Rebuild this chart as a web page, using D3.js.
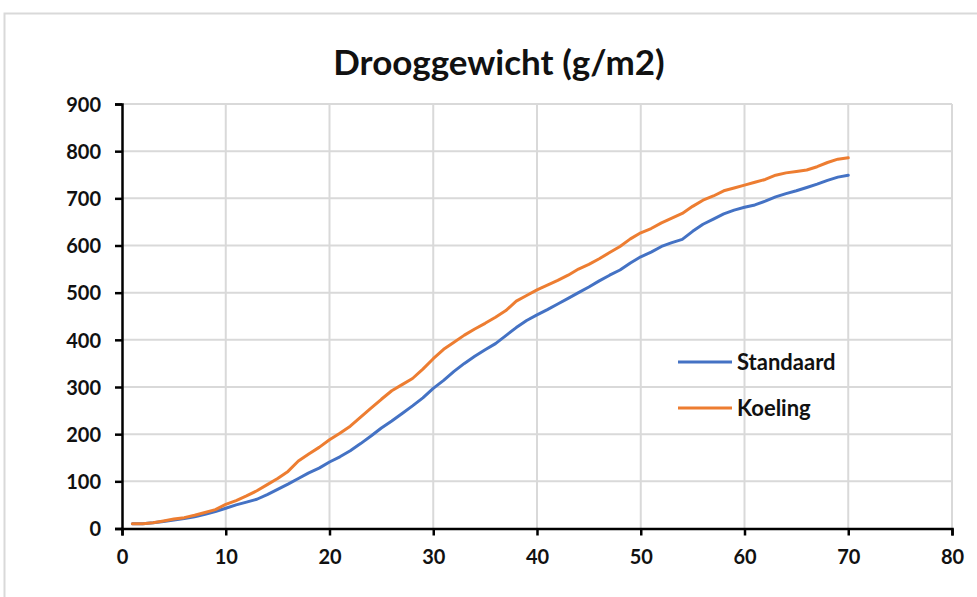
<!DOCTYPE html>
<html>
<head>
<meta charset="utf-8">
<script src="https://cdn.jsdelivr.net/npm/d3@7"></script>
<style>
  html, body { margin: 0; padding: 0; background: #fff; }
  svg { display: block; font-family: Lato, "Open Sans", sans-serif; }
</style>
</head>
<body>
<svg id="chart" width="977" height="597"></svg>
<script>
// Dry weight (g/m2) per day for two treatments
const days = d3.range(1, 71);
const standaard = [
  10, 10, 12, 15, 18, 21, 25, 30, 36, 43,
  50, 56, 62, 72, 83, 94, 106, 118, 128, 141,
  152, 165, 180, 196, 213, 228, 244, 260, 277, 297,
  314, 333, 350, 365, 379, 392, 409, 426, 441, 453,
  464, 476, 488, 500, 512, 525, 537, 548, 563, 576,
  586, 598, 606, 613, 630, 645, 656, 667, 675, 681,
  686, 694, 703, 710, 716, 723, 730, 738, 745, 749
];
const koeling = [
  10, 10, 12, 16, 20, 23, 28, 34, 40, 51,
  59, 69, 80, 93, 106, 121, 143, 158, 172, 188,
  202, 217, 236, 255, 274, 292, 305, 318, 338, 360,
  380, 395, 410, 423, 435, 448, 462, 482, 494, 506,
  516, 526, 537, 550, 560, 572, 585, 598, 614, 627,
  636, 648, 658, 668, 683, 696, 705, 716, 722, 728,
  734, 740, 749, 754, 757, 760, 767, 776, 783, 786
];
const seriesNames = ["Standaard", "Koeling"];
const seriesColors = ["#4472C4", "#ED7D31"];
const xTicks = [0, 10, 20, 30, 40, 50, 60, 70, 80];
const yTicks = [0, 100, 200, 300, 400, 500, 600, 700, 800, 900];
const title = "Drooggewicht (g/m2)";

const svg = d3.select("#chart");
const grid = "#d9d9d9";

// outer chart frame
svg.append("rect")
  .attr("x", 4.5).attr("y", 13.5)
  .attr("width", 1100).attr("height", 700)
  .attr("fill", "#fff").attr("stroke", grid).attr("stroke-width", 2);

const x = d3.scaleLinear().domain([0, 80]).range([122, 952]);
const y = d3.scaleLinear().domain([0, 900]).range([528.5, 104]);

// gridlines
svg.append("g").selectAll("line.h").data(yTicks.slice(1)).join("line")
  .attr("x1", x(0)).attr("x2", x(80))
  .attr("y1", d => y(d)).attr("y2", d => y(d))
  .attr("stroke", grid).attr("stroke-width", 2);
svg.append("g").selectAll("line.v").data(xTicks.slice(1)).join("line")
  .attr("x1", d => x(d)).attr("x2", d => x(d))
  .attr("y1", y(0)).attr("y2", y(900))
  .attr("stroke", grid).attr("stroke-width", 2);

// axes
const xAxis = svg.append("g")
  .attr("transform", `translate(0,${y(0)})`)
  .call(d3.axisBottom(x).tickValues(xTicks).tickSize(7).tickPadding(14).tickFormat(d3.format("d")));
const yAxis = svg.append("g")
  .attr("transform", `translate(${x(0)},0)`)
  .call(d3.axisLeft(y).tickValues(yTicks).tickSize(7).tickPadding(14).tickFormat(d3.format("d")));
[xAxis, yAxis].forEach(g => {
  g.select(".domain").attr("stroke", "#000").attr("stroke-width", 2.5);
  g.selectAll(".tick line").attr("stroke", "#000").attr("stroke-width", 2.5);
  g.selectAll(".tick text")
    .attr("fill", "#111").attr("font-size", 20).attr("font-weight", 700)
    .attr("font-family", "Lato, 'Open Sans', sans-serif");
});
yAxis.selectAll(".tick text").attr("dy", "0.36em");

// series lines
const line = d3.line().x((d, i) => x(days[i])).y(d => y(d));
[standaard, koeling].forEach((vals, k) => {
  svg.append("path")
    .datum(vals)
    .attr("d", line)
    .attr("fill", "none")
    .attr("stroke", seriesColors[k])
    .attr("stroke-width", 3)
    .attr("stroke-linejoin", "round")
    .attr("stroke-linecap", "round");
});

// legend
const legend = svg.append("g");
seriesNames.forEach((name, k) => {
  const ly = 362 + k * 46;
  legend.append("line")
    .attr("x1", 678).attr("x2", 732).attr("y1", ly).attr("y2", ly)
    .attr("stroke", seriesColors[k]).attr("stroke-width", 3);
  legend.append("text")
    .attr("x", 737).attr("y", ly).attr("dy", "0.36em")
    .attr("font-size", 22).attr("font-weight", 700).attr("fill", "#111")
    .text(name);
});

// title
svg.append("text")
  .attr("x", 499).attr("y", 75)
  .attr("text-anchor", "middle")
  .attr("font-size", 35).attr("font-weight", 700).attr("fill", "#111")
  .text(title);
</script>
</body>
</html>
